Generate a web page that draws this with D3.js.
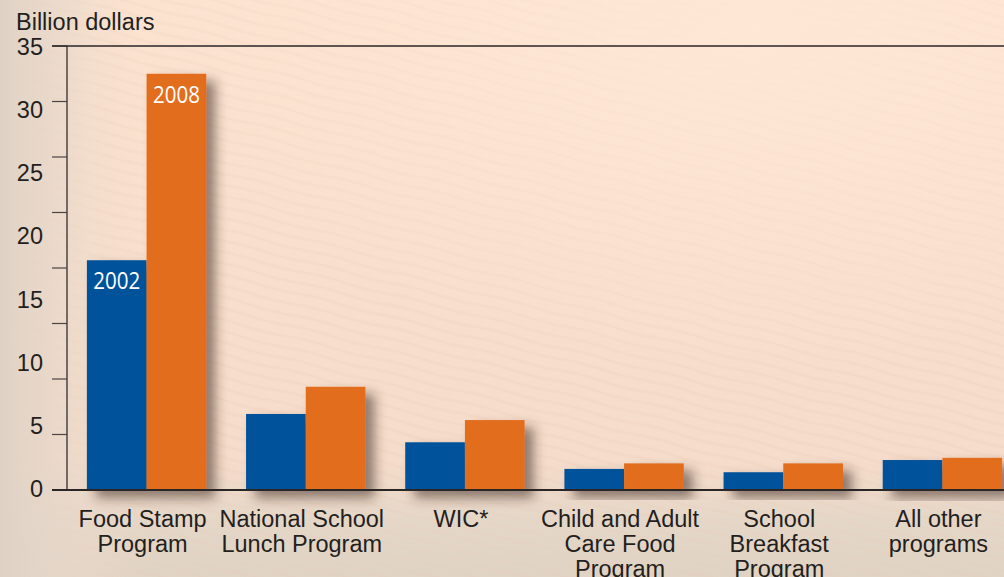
<!DOCTYPE html>
<html>
<head>
<meta charset="utf-8">
<script src="https://cdn.jsdelivr.net/npm/d3@7"></script>
<style>
  html, body { margin: 0; padding: 0; background: #f3dccb; }
  svg { display: block; }
  text { font-family: "Liberation Sans", Arial, sans-serif; fill: #231f20; }
</style>
</head>
<body>
<svg id="chart" width="1004" height="577"></svg>
<script>
// programs, one label line per entry
const categories = [
  ["Food Stamp", "Program"],
  ["National School", "Lunch Program"],
  ["WIC*"],
  ["Child and Adult", "Care Food", "Program"],
  ["School", "Breakfast", "Program"],
  ["All other", "programs"]
];
const years = ["2002", "2008"];
const values2002 = [20.7, 6.85, 4.3, 1.9, 1.6, 2.7];
const values2008 = [37.5, 9.3, 6.3, 2.4, 2.4, 2.9];
const tickValues = [0, 5, 10, 15, 20, 25, 30, 35, 40];
const tickLabels = [0, 5, 10, 15, 20, 25, 30, 35];
const colors = ["#00529b", "#e26d1f"];

const svg = d3.select("#chart");
const W = 1004, H = 577;
const axisX = 67, y0 = 490, yTop = 46;

// background
const defs = svg.append("defs");
const g1 = defs.append("linearGradient").attr("id", "bgV")
  .attr("x1", 0).attr("y1", 0).attr("x2", 0).attr("y2", 1);
g1.append("stop").attr("offset", "0").attr("stop-color", "#fce3d0");
g1.append("stop").attr("offset", "0.8").attr("stop-color", "#f6dcca");
g1.append("stop").attr("offset", "0.9").attr("stop-color", "#e5d7c8");
g1.append("stop").attr("offset", "1").attr("stop-color", "#e0d3c3");
const g2 = defs.append("linearGradient").attr("id", "bgH")
  .attr("x1", 0).attr("y1", 0).attr("x2", 1).attr("y2", 0);
g2.append("stop").attr("offset", "0").attr("stop-color", "#dfd2c5").attr("stop-opacity", 1);
g2.append("stop").attr("offset", "0.06").attr("stop-color", "#e6d7ca").attr("stop-opacity", 0.7);
g2.append("stop").attr("offset", "0.14").attr("stop-color", "#f2dccc").attr("stop-opacity", 0);
g2.append("stop").attr("offset", "1").attr("stop-color", "#f2dccc").attr("stop-opacity", 0);
const g3 = defs.append("radialGradient").attr("id", "bgR")
  .attr("cx", 0.75).attr("cy", 0.05).attr("r", 0.6);
g3.append("stop").attr("offset", "0").attr("stop-color", "#fee8d6").attr("stop-opacity", 0.9);
g3.append("stop").attr("offset", "1").attr("stop-color", "#fee8d6").attr("stop-opacity", 0);

const pat = defs.append("pattern").attr("id", "waves")
  .attr("patternUnits", "userSpaceOnUse").attr("width", 90).attr("height", 11)
  .attr("patternTransform", "rotate(14)");
pat.append("path").attr("d", "M0,4 Q22,2 45,4 T90,4")
  .attr("fill", "none").attr("stroke", "#e8c9b2").attr("stroke-width", 3).attr("opacity", 0.18);

svg.append("rect").attr("width", W).attr("height", H).attr("fill", "url(#bgV)");
svg.append("rect").attr("width", W).attr("height", H).attr("fill", "url(#waves)");
svg.append("rect").attr("width", W).attr("height", H).attr("fill", "url(#bgR)");
svg.append("rect").attr("width", W).attr("height", H).attr("fill", "url(#bgH)");

const shadow = defs.append("filter").attr("id", "shadow")
  .attr("x", "-20%").attr("y", "-20%").attr("width", "150%").attr("height", "150%");
shadow.append("feDropShadow").attr("dx", 9).attr("dy", 7).attr("stdDeviation", 6)
  .attr("flood-color", "#3a2a20").attr("flood-opacity", 0.55);

// scales
const x = d3.scaleBand().domain(d3.range(categories.length))
  .range([axisX, 1022]).paddingInner(0.25).paddingOuter(0.125);
const xs = d3.scaleBand().domain(years).range([0, x.bandwidth()]);
const y = d3.scaleLinear().domain([0, 40]).range([y0, yTop]);
const yLabel = d3.scaleLinear().domain([0, 35]).range([y0 - 1.5, yTop + 0.5]);

// bars
const groups = svg.append("g").selectAll("g")
  .data(categories.map((c, i) => ({ i, vals: [values2002[i], values2008[i]] })))
  .join("g")
  .attr("transform", d => `translate(${x(d.i)},0)`)
  .attr("filter", "url(#shadow)");

groups.selectAll("rect")
  .data(d => d.vals.map((v, k) => ({ v, year: years[k], k })))
  .join("rect")
  .attr("x", d => xs(d.year))
  .attr("y", d => y(d.v))
  .attr("width", xs.bandwidth())
  .attr("height", d => y0 + 1 - y(d.v))
  .attr("fill", d => colors[d.k]);

// year labels inside the first group
svg.append("g").selectAll("text")
  .data(years.map((yr, k) => ({ yr, v: k === 0 ? values2002[0] : values2008[0] })))
  .join("text")
  .attr("x", d => x(0) + xs(d.yr) + xs.bandwidth() / 2)
  .attr("y", d => y(d.v) + 29)
  .attr("text-anchor", "middle")
  .attr("textLength", 47)
  .attr("lengthAdjust", "spacingAndGlyphs")
  .style("font-family", "'Open Sans', sans-serif")
  .style("font-size", "23.5px")
  .style("fill", "#fff")
  .text(d => d.yr);

// axis lines
const axis = svg.append("g");
axis.selectAll("line.tick")
  .data(tickValues)
  .join("line")
  .attr("class", "tick")
  .attr("x1", 52).attr("x2", axisX)
  .attr("y1", d => y(d)).attr("y2", d => y(d))
  .attr("stroke", "#4a4544").attr("stroke-width", 1.2);
axis.append("line")
  .attr("x1", axisX).attr("x2", axisX).attr("y1", yTop).attr("y2", y0)
  .attr("stroke", "#4a4544").attr("stroke-width", 1.5);
axis.append("line")
  .attr("x1", 52).attr("x2", W).attr("y1", yTop).attr("y2", yTop)
  .attr("stroke", "#2a2626").attr("stroke-width", 1.5);
axis.append("line")
  .attr("x1", 52).attr("x2", W).attr("y1", y0).attr("y2", y0)
  .attr("stroke", "#2a2626").attr("stroke-width", 1.8);

axis.selectAll("text")
  .data(tickLabels)
  .join("text")
  .attr("x", 43)
  .attr("y", d => yLabel(d))
  .attr("dy", "0.36em")
  .attr("text-anchor", "end")
  .style("font-size", "23.5px")
  .text(d => d);

svg.append("text")
  .attr("x", 16).attr("y", 30)
  .style("font-size", "23.5px")
  .text("Billion dollars");

// category labels
const cat = svg.append("g").selectAll("text")
  .data(categories.map((c, i) => ({ c, i })))
  .join("text")
  .attr("text-anchor", "middle")
  .style("font-size", "23.5px")
  .attr("transform", d => `translate(${x(d.i) + x.bandwidth() / 2 - 4},527)`);
cat.selectAll("tspan")
  .data(d => d.c)
  .join("tspan")
  .attr("x", 0)
  .attr("y", (d, k) => k * 25)
  .text(d => d);
</script>
</body>
</html>
